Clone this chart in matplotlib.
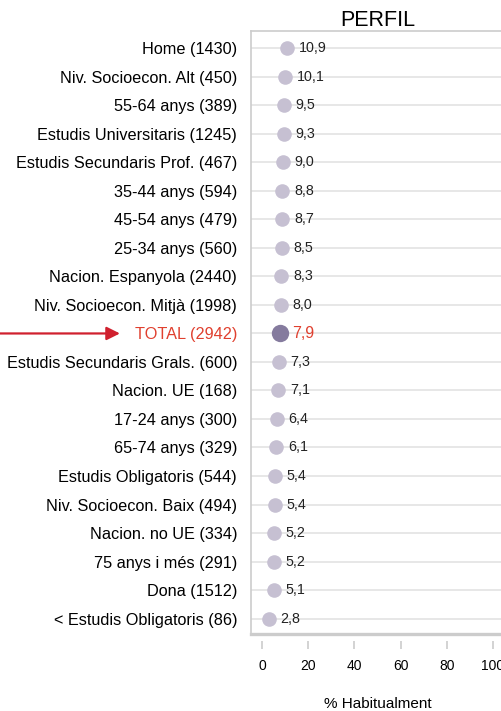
import matplotlib.pyplot as plt

plt.rcParams['font.family'] = ['Liberation Sans', 'DejaVu Sans']

# Perfil: % que ho fa habitualment, per grup
categories = [
    'Home (1430)', 'Niv. Socioecon. Alt (450)', '55-64 anys (389)',
    'Estudis Universitaris (1245)', 'Estudis Secundaris Prof. (467)',
    '35-44 anys (594)', '45-54 anys (479)', '25-34 anys (560)',
    'Nacion. Espanyola (2440)', 'Niv. Socioecon. Mitjà (1998)',
    'TOTAL (2942)', 'Estudis Secundaris Grals. (600)', 'Nacion. UE (168)',
    '17-24 anys (300)', '65-74 anys (329)', 'Estudis Obligatoris (544)',
    'Niv. Socioecon. Baix (494)', 'Nacion. no UE (334)', '75 anys i més (291)',
    'Dona (1512)', '< Estudis Obligatoris (86)',
]
values = [10.9, 10.1, 9.5, 9.3, 9.0, 8.8, 8.7, 8.5, 8.3, 8.0, 7.9,
          7.3, 7.1, 6.4, 6.1, 5.4, 5.4, 5.2, 5.2, 5.1, 2.8]
total_label = 'TOTAL (2942)'
xticks = [0, 20, 40, 60, 80, 100]

dot_color = '#c6c0d2'
total_color = '#857b9e'
red = '#e0402f'
grid_color = '#e3e3e3'
frame_color = '#cccccc'

fig = plt.figure(figsize=(5.02, 7.11), dpi=100)
ax = fig.add_axes([0.5, 0.108, 0.504, 0.848])

n = len(categories)
ys = list(range(n))

for y in ys:
    ax.axhline(y, color=grid_color, lw=1.2, zorder=0)

for y, cat, v in zip(ys, categories, values):
    is_total = cat == total_label
    ax.plot(v, y, 'o', ms=12.5 if is_total else 10.5,
            color=total_color if is_total else dot_color, mec='none', zorder=3)
    ax.annotate(f'{v:.1f}'.replace('.', ','), (v, y), xytext=(8.5, 0),
                textcoords='offset points', va='center', ha='left',
                fontsize=11.5 if is_total else 10.3,
                color=red if is_total else '#222222', zorder=4)

ax.set_xlim(-4.8, 104.8)
ax.set_ylim(n - 0.45, -0.6)

ax.set_yticks(ys)
ax.set_yticklabels(categories, fontsize=11.7)
for lab in ax.get_yticklabels():
    if lab.get_text() == total_label:
        lab.set_color(red)
        lab.set_fontsize(11.7)
ax.tick_params(axis='y', length=0, pad=10)

ax.set_xticks(xticks)
ax.set_xticklabels([str(t) for t in xticks], fontsize=10.5)
ax.tick_params(axis='x', length=6, color=frame_color, pad=7, width=1.2)
ax.set_xlabel('% Habitualment', fontsize=11, labelpad=17)

ax.set_title('PERFIL', fontsize=15.5, pad=4)

# marc: línies de dalt, esquerra i baix; els ticks queden separats
for side in ['top', 'left']:
    ax.spines[side].set_color(frame_color)
    ax.spines[side].set_linewidth(1.2)
ax.spines['right'].set_visible(False)
ax.spines['bottom'].set_position(('outward', 5))
ax.spines['bottom'].set_visible(False)
ax.axhline(n - 0.45, color=frame_color, lw=2.4, clip_on=False, zorder=1)

# fletxa que assenyala el total
y_total = categories.index(total_label)
ax.annotate('', xy=(-0.518, y_total), xycoords=('axes fraction', 'data'),
            xytext=(-1.0, y_total), textcoords=('axes fraction', 'data'),
            arrowprops=dict(arrowstyle='-|>', color='#d0202e', lw=1.6,
                            mutation_scale=20, shrinkA=0, shrinkB=0))

fig.savefig('out.png', dpi=100)
